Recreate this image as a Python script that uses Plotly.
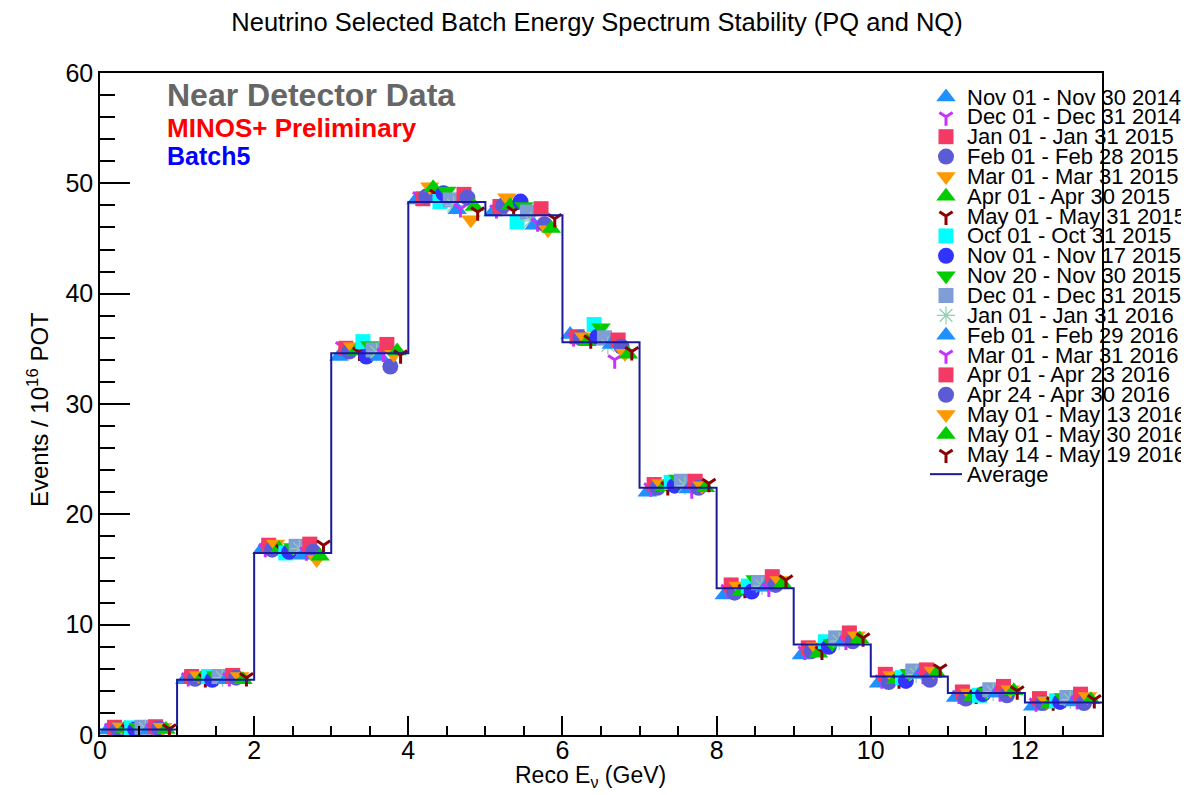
import plotly.graph_objects as go

# ---------------- data ----------------
bin_edges = [0, 1, 2, 3, 4, 5, 6, 7, 8, 9, 10, 11, 12, 13]
average = [0.5, 5.0, 16.5, 34.6, 48.3, 47.1, 35.6, 22.4, 13.3, 8.2, 5.3, 3.8, 2.95]

periods = [
    "Nov 01 - Nov 30 2014", "Dec 01 - Dec 31 2014", "Jan 01 - Jan 31 2015",
    "Feb 01 - Feb 28 2015", "Mar 01 - Mar 31 2015", "Apr 01 - Apr 30 2015",
    "May 01 - May 31 2015", "Oct 01 - Oct 31 2015", "Nov 01 - Nov 17 2015",
    "Nov 20 - Nov 30 2015", "Dec 01 - Dec 31 2015", "Jan 01 - Jan 31 2016",
    "Feb 01 - Feb 29 2016", "Mar 01 - Mar 31 2016", "Apr 01 - Apr 23 2016",
    "Apr 24 - Apr 30 2016", "May 01 - May 13 2016", "May 01 - May 30 2016",
    "May 14 - May 19 2016",
]

nov14 = [0.45, 5.0, 16.8, 34.3, 48.5, 47.4, 36.3, 22.0, 12.7, 7.25, 4.7, 3.4, 2.6]
dec14 = [0.6, 5.2, 16.9, 35.2, 48.8, 47.6, 36.0, 22.4, 13.2, 7.6, 5.0, 3.6, 2.9]
jan15 = [0.7, 5.3, 17.2, 35.05, 48.6, 47.9, 36.1, 22.7, 13.6, 7.9, 5.5, 3.9, 3.3]
feb15 = [0.55, 5.1, 16.8, 34.75, 48.8, 48.0, 36.0, 22.4, 12.9, 7.6, 4.8, 3.3, 2.9]
mar15 = [0.75, 5.4, 17.3, 35.2, 49.7, 48.7, 36.1, 22.8, 13.5, 8.0, 5.4, 3.8, 3.1]
apr15 = [0.6, 5.2, 16.9, 34.8, 49.6, 48.0, 35.65, 22.5, 13.0, 7.4, 5.0, 3.5, 2.8]
may15 = [0.5, 5.1, 16.8, 34.7, 49.0, 47.5, 35.8, 22.5, 13.2, 7.6, 5.0, 3.6, 3.0]
oct15 = [0.65, 5.3, 16.5, 35.65, 48.35, 46.5, 37.2, 22.9, 13.5, 8.45, 5.2, 3.6, 3.1]
nov15a = [0.5, 5.0, 16.6, 34.3, 49.1, 48.35, 36.1, 22.6, 13.0, 8.0, 4.9, 3.7, 3.0]
nov15b = [0.7, 5.4, 17.0, 35.3, 49.3, 47.9, 36.9, 23.2, 14.1, 8.3, 5.6, 3.9, 3.4]
dec15 = [0.7, 5.3, 17.1, 34.9, 48.5, 47.4, 36.0, 23.0, 13.8, 8.8, 5.8, 4.1, 3.4]
jan16 = [0.6, 5.2, 16.9, 34.7, 48.0, 46.6, 35.3, 22.6, 13.5, 8.5, 5.5, 3.9, 3.2]
feb16 = [0.45, 5.0, 16.3, 34.3, 47.6, 46.2, 35.4, 22.3, 13.4, 8.4, 5.5, 3.8, 3.0]
mar16 = [0.6, 5.2, 16.6, 34.6, 47.7, 46.4, 34.0, 22.2, 13.3, 8.5, 5.4, 3.8, 3.1]
apr16a = [0.75, 5.4, 17.3, 35.4, 49.0, 47.7, 35.8, 23.0, 14.35, 9.25, 5.9, 4.4, 3.7]
apr16b = [0.6, 5.2, 16.6, 33.4, 48.7, 46.3, 35.2, 22.4, 13.6, 8.5, 5.0, 3.6, 2.9]
may16a = [0.7, 5.3, 15.9, 34.5, 46.7, 45.8, 34.6, 22.6, 14.0, 9.0, 5.8, 4.1, 3.5]
may16b = [0.5, 5.0, 16.2, 34.8, 47.9, 45.9, 34.5, 22.4, 13.7, 8.7, 5.6, 4.0, 3.2]
may16c = [0.55, 5.2, 17.2, 34.45, 47.4, 46.8, 34.75, 22.8, 14.05, 8.8, 6.0, 4.0, 3.2]

series = [nov14, dec14, jan15, feb15, mar15, apr15, may15, oct15, nov15a, nov15b,
          dec15, jan16, feb16, mar16, apr16a, apr16b, may16a, may16b, may16c]

# ---------------- styles ----------------
C_TRI = "#1e90ff"
C_Y = "#c832ff"
C_SQ = "#f23a64"
C_CIR = "#5b5bd6"
C_OR = "#ff9900"
C_GR = "#00cc00"
C_DR = "#8b0000"
styles = [
    ("triangle-up", C_TRI, 17), ("y-down", C_Y, 11), ("square", C_SQ, 15),
    ("circle", C_CIR, 16), ("triangle-down", C_OR, 17), ("triangle-up", C_GR, 17),
    ("y-down", C_DR, 11), ("square", "#00ffff", 15), ("circle", "#3333ff", 16),
    ("triangle-down", C_GR, 17), ("square", "#7f9ed6", 15), ("asterisk", "#8fd0b0", 15),
    ("triangle-up", C_TRI, 17), ("y-down", C_Y, 11), ("square", C_SQ, 15),
    ("circle", C_CIR, 16), ("triangle-down", C_OR, 17), ("triangle-up", C_GR, 17),
    ("y-down", C_DR, 11),
]
LINE_SYMS = ("y-down", "asterisk")

FONT = "Liberation Sans, Arial, sans-serif"
OFF = 8                                   # page body margin
X0, X1, Y0, Y1 = 100, 1102, 73, 735       # plot area in window pixels
W, H = 1189 - OFF, 795 - OFF


def px_to_paper_x(px):
    return (px - X0) / (X1 - X0)


def px_to_paper_y(py):
    return (Y1 - py) / (Y1 - Y0)


def make_marker(sym, col, size):
    if sym in LINE_SYMS:
        return dict(symbol=sym, size=size, color=col,
                    line=dict(color=col, width=3 if sym != "asterisk" else 1.2))
    return dict(symbol=sym, size=size, color=col, line=dict(width=0))


fig = go.Figure()

nbins = len(bin_edges) - 1
n = len(series)
for i, (vals, name, (sym, col, size)) in enumerate(zip(series, periods, styles)):
    xs = [bin_edges[b] + 0.1 + i * 0.8 / (n - 1) for b in range(nbins)]
    fig.add_trace(go.Scatter(x=xs, y=vals, mode="markers", marker=make_marker(sym, col, size),
                             name=name, showlegend=False))

# average histogram
fig.add_trace(go.Scatter(x=bin_edges, y=average + [average[-1]], mode="lines",
                         line=dict(shape="hv", color="#1a1a9a", width=2),
                         name="Average", showlegend=False))

# ---------------- manual legend ----------------
row0 = 97
row_step = 19.85
leg_sym_x = px_to_paper_x(946)
leg_txt_x = px_to_paper_x(965)
leg_ys = [px_to_paper_y(row0 + k * row_step) for k in range(n + 1)]
for i, (sym, col, size) in enumerate(styles):
    fig.add_trace(go.Scatter(x=[leg_sym_x], y=[leg_ys[i]], xaxis="x2", yaxis="y2",
                             mode="markers", marker=make_marker(sym, col, size),
                             showlegend=False, hoverinfo="skip"))
labels = periods + ["Average"]
annotations = []
for i, lab in enumerate(labels):
    annotations.append(dict(x=leg_txt_x, y=leg_ys[i], xref="paper", yref="paper",
                            text=lab, showarrow=False, xanchor="left", yanchor="middle",
                            font=dict(family=FONT, size=22, color="black")))
shapes = [dict(type="line", xref="paper", yref="paper",
               x0=px_to_paper_x(930), x1=px_to_paper_x(962),
               y0=leg_ys[n], y1=leg_ys[n], line=dict(color="#1a1a9a", width=2))]

# text labels
annotations += [
    dict(x=px_to_paper_x(165), y=px_to_paper_y(95), xref="paper", yref="paper",
         text="<b>Near Detector Data</b>", showarrow=False, xanchor="left", yanchor="middle",
         font=dict(family=FONT, size=32, color="#666666")),
    dict(x=px_to_paper_x(165), y=px_to_paper_y(128), xref="paper", yref="paper",
         text="<b>MINOS+ Preliminary</b>", showarrow=False, xanchor="left", yanchor="middle",
         font=dict(family=FONT, size=26, color="#ff0000")),
    dict(x=px_to_paper_x(165), y=px_to_paper_y(156), xref="paper", yref="paper",
         text="<b>Batch5</b>", showarrow=False, xanchor="left", yanchor="middle",
         font=dict(family=FONT, size=25, color="#0000ff")),
    dict(x=px_to_paper_x(590), y=px_to_paper_y(776), xref="paper", yref="paper",
         text="Reco E<sub>ν</sub> (GeV)", showarrow=False, xanchor="center", yanchor="middle",
         font=dict(family=FONT, size=23, color="black")),
    dict(x=px_to_paper_x(38), y=px_to_paper_y(410), xref="paper", yref="paper",
         text="Events / 10<sup>16</sup> POT", showarrow=False, xanchor="center", yanchor="middle",
         textangle=-90, font=dict(family=FONT, size=24, color="black")),
]

fig.update_layout(
    width=W, height=H,
    margin=dict(l=X0 - OFF, r=W + OFF - X1, t=Y0 - OFF, b=H + OFF - Y1, autoexpand=False),
    paper_bgcolor="white", plot_bgcolor="white",
    title=dict(text="Neutrino Selected Batch Energy Spectrum Stability (PQ and NQ)",
               x=(597 - OFF) / W, xanchor="center", y=1 - (22 - OFF) / H, yanchor="middle",
               font=dict(family=FONT, size=25.5, color="black")),
    xaxis=dict(range=[0, 13], dtick=2, tick0=0, ticks="inside", ticklen=19, tickwidth=1.5,
               tickcolor="black", showline=True, linecolor="black", linewidth=1.5, mirror=True,
               showgrid=False, zeroline=False, ticklabelstandoff=-8,
               minor=dict(dtick=0.5, ticks="inside", ticklen=9, tickwidth=1.5, tickcolor="black", showgrid=False),
               tickfont=dict(family=FONT, size=25, color="black")),
    yaxis=dict(range=[0, 60], dtick=10, tick0=0, ticks="inside", ticklen=30, tickwidth=1.5,
               tickcolor="black", showline=True, linecolor="black", linewidth=1.5, mirror=True,
               showgrid=False, zeroline=False,
               minor=dict(dtick=2, ticks="inside", ticklen=15, tickwidth=1.5, tickcolor="black", showgrid=False),
               tickfont=dict(family=FONT, size=25, color="black")),
    xaxis2=dict(range=[0, 1], overlaying="x", visible=False, fixedrange=True),
    yaxis2=dict(range=[0, 1], overlaying="y", visible=False, fixedrange=True),
    annotations=annotations,
    shapes=shapes,
    showlegend=False,
)

fig.write_html("out.html")
